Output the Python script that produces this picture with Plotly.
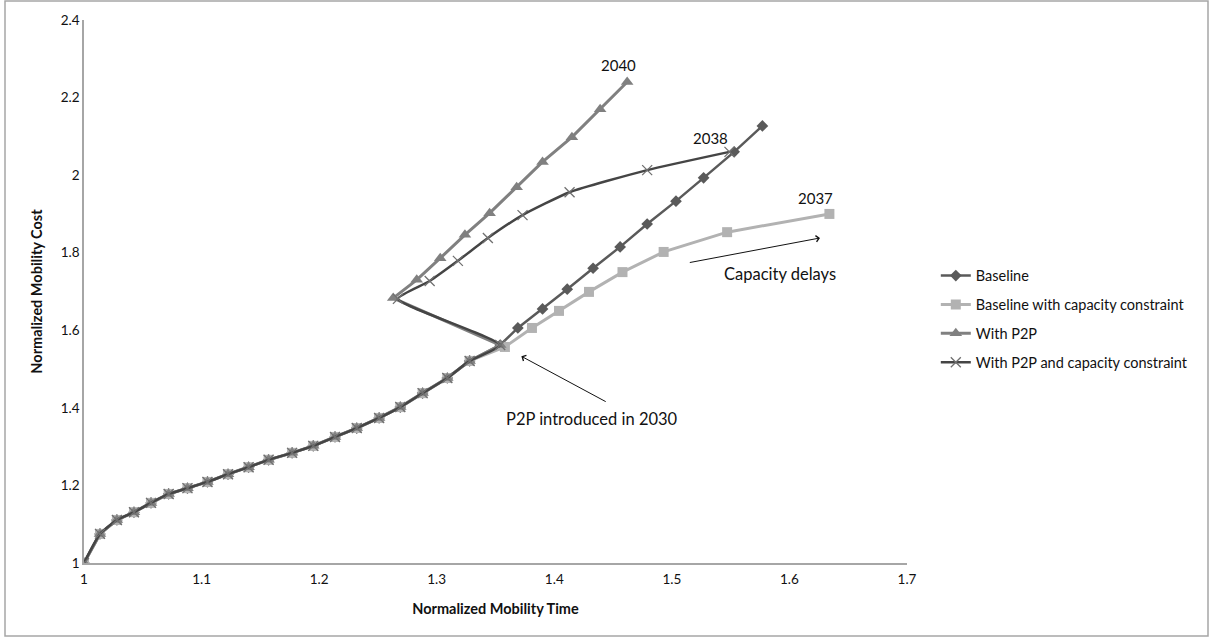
import plotly.graph_objects as go

# Common trajectory 2010-2030 (x = normalized mobility time, y = normalized mobility cost)
common_x = [1.000, 1.0136, 1.028, 1.0425, 1.057, 1.072, 1.088, 1.105, 1.1225, 1.140, 1.157,
            1.177, 1.195, 1.2135, 1.232, 1.251, 1.269, 1.288, 1.309, 1.328, 1.354]
common_y = [1.000, 1.075, 1.111, 1.131, 1.155, 1.178, 1.193, 1.209, 1.229, 1.247, 1.266,
            1.284, 1.302, 1.325, 1.348, 1.374, 1.402, 1.438, 1.477, 1.521, 1.562]

# Baseline 2031-2040
base_x = [1.369, 1.390, 1.411, 1.433, 1.456, 1.479, 1.5035, 1.527, 1.553, 1.577]
base_y = [1.606, 1.655, 1.706, 1.760, 1.815, 1.874, 1.933, 1.993, 2.060, 2.127]

# Baseline with capacity constraint 2030-2037
cap_x = [1.358, 1.381, 1.404, 1.4295, 1.458, 1.493, 1.547, 1.634]
cap_y = [1.557, 1.606, 1.650, 1.699, 1.750, 1.802, 1.853, 1.900]

# With P2P 2031-2040
p2p_x = [1.263, 1.283, 1.303, 1.324, 1.345, 1.368, 1.390, 1.415, 1.439, 1.462]
p2p_y = [1.683, 1.730, 1.786, 1.846, 1.902, 1.969, 2.034, 2.098, 2.170, 2.240]

# With P2P and capacity constraint 2031-2038
p2pcap_x = [1.267, 1.294, 1.318, 1.3435, 1.373, 1.413, 1.479, 1.549]
p2pcap_y = [1.681, 1.727, 1.779, 1.838, 1.897, 1.956, 2.013, 2.060]

x_ticks = [1, 1.1, 1.2, 1.3, 1.4, 1.5, 1.6, 1.7]
x_tick_labels = ["1", "1.1", "1.2", "1.3", "1.4", "1.5", "1.6", "1.7"]
y_ticks = [1, 1.2, 1.4, 1.6, 1.8, 2.0, 2.2, 2.4]
y_tick_labels = ["1", "1.2", "1.4", "1.6", "1.8", "2", "2.2", "2.4"]

FONT = "Lato"
TXT = "#111111"
C_BASE = "#5a5a5a"
C_CAP = "#b2b2b2"
C_P2P = "#808080"
C_P2PCAP = "#454545"

fig = go.Figure()

fig.add_trace(go.Scatter(
    x=common_x + base_x, y=common_y + base_y, name="Baseline", legendgroup="a",
    mode="lines+markers",
    line=dict(color=C_BASE, width=2.5),
    marker=dict(symbol="diamond", size=9, color=C_BASE)))

fig.add_trace(go.Scatter(
    x=common_x[:-1] + cap_x, y=common_y[:-1] + cap_y, name="Baseline with capacity constraint", legendgroup="b",
    mode="lines+markers",
    line=dict(color=C_CAP, width=3),
    marker=dict(symbol="square", size=10, color=C_CAP)))

fig.add_trace(go.Scatter(
    x=common_x + p2p_x, y=common_y + p2p_y, name="With P2P", legendgroup="c",
    mode="lines+markers",
    line=dict(color=C_P2P, width=3),
    marker=dict(symbol="triangle-up", size=11, color=C_P2P)))

fig.add_trace(go.Scatter(
    x=common_x + p2pcap_x, y=common_y + p2pcap_y, name="With P2P and capacity constraint", legendgroup="d",
    mode="lines+markers",
    line=dict(color=C_P2PCAP, width=2.5, shape="spline", smoothing=0.5),
    marker=dict(symbol="x-thin", size=10, color=C_P2PCAP,
                line=dict(color="#707070", width=1.3))))

ann_font = dict(family=FONT, size=15, color=TXT)
big_font = dict(family=FONT, size=16.5, color=TXT)
annotations = [
    dict(x=p2p_x[-1], y=p2p_y[-1], text="2040", showarrow=False, yshift=17, xshift=-9, font=ann_font),
    dict(x=p2pcap_x[-1], y=p2pcap_y[-1], text="2038", showarrow=False, yshift=14, xshift=-19, font=ann_font),
    dict(x=cap_x[-1], y=cap_y[-1], text="2037", showarrow=False, yshift=16, xshift=-14, font=ann_font),
    dict(x=1.5923, y=1.745, text="Capacity delays", showarrow=False, font=big_font),
    dict(x=1.626, y=1.838, ax=1.514, ay=1.774, xref="x", yref="y", axref="x", ayref="y",
         text="", showarrow=True, arrowhead=4, arrowsize=1.2, arrowwidth=1, arrowcolor=TXT),
    dict(x=1.432, y=1.372, text="P2P introduced in 2030", showarrow=False, font=big_font),
    dict(x=1.372, y=1.533, ax=1.445, ay=1.414, xref="x", yref="y", axref="x", ayref="y",
         text="", showarrow=True, arrowhead=4, arrowsize=1.2, arrowwidth=1, arrowcolor=TXT),
]

fig.update_layout(
    width=1212, height=638,
    margin=dict(l=84, r=305, t=20, b=75, autoexpand=False),
    paper_bgcolor="white", plot_bgcolor="white",
    font=dict(family=FONT, size=13, color=TXT),
    showlegend=True,
    legend=dict(x=1.035, y=0.449, xanchor="left", yanchor="middle",
                font=dict(family=FONT, size=14.5, color=TXT),
                tracegroupgap=7, itemwidth=30, bgcolor="rgba(0,0,0,0)"),
    annotations=annotations,
    shapes=[dict(type="rect", xref="paper", yref="paper",
                 x0=(5 - 84) / 823, x1=(1208 - 84) / 823,
                 y0=(563 - 636) / 543, y1=(563 - 1) / 543,
                 line=dict(color="#a6a6a6", width=1.5), fillcolor="rgba(0,0,0,0)", layer="below")],
)

fig.update_xaxes(range=[1, 1.7], tickvals=x_ticks, ticktext=x_tick_labels, automargin=False,
                 showgrid=False, zeroline=False, showline=True, linecolor="#a6a6a6", linewidth=1.5,
                 ticks="", ticklabelstandoff=3, tickfont=dict(family=FONT, size=13.5, color=TXT),
                 title=dict(text="<b>Normalized Mobility Time</b>", font=dict(family=FONT, size=14.5, color=TXT), standoff=18))
fig.update_yaxes(range=[1, 2.4], tickvals=y_ticks, ticktext=y_tick_labels, automargin=False,
                 showgrid=False, zeroline=False, showline=True, linecolor="#a6a6a6", linewidth=1.5,
                 ticks="", tickfont=dict(family=FONT, size=13.5, color=TXT),
                 title=dict(text="<b>Normalized Mobility Cost</b>", font=dict(family=FONT, size=14.5, color=TXT), standoff=15))

fig.write_html("out.html", config={"displayModeBar": False},
               post_script="document.body.style.margin='0';")
